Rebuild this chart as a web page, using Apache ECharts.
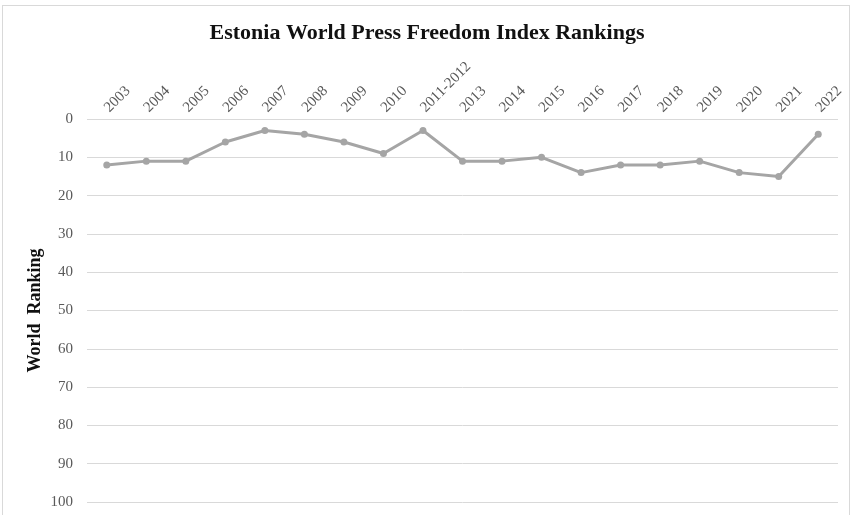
<!DOCTYPE html>
<html><head><meta charset="utf-8">
<script src="https://cdn.jsdelivr.net/npm/echarts@6/dist/echarts.min.js"></script>
<style>
html,body{margin:0;padding:0;background:#fff;}
#frame{position:absolute;left:2px;top:5px;width:848px;height:515px;border:1px solid #d9d9d9;border-bottom:none;box-sizing:border-box;}
#c{position:absolute;left:0;top:0;width:854px;height:515px;}
</style></head>
<body>
<div id="frame"></div>
<div id="c"></div>
<script>
var categories = ['2003','2004','2005','2006','2007','2008','2009','2010','2011-2012','2013','2014','2015','2016','2017','2018','2019','2020','2021','2022'];
var rankings = [12,11,11,6,3,4,6,9,3,11,11,10,14,12,12,11,14,15,4];
var chart = echarts.init(document.getElementById('c'));
var serif = '"Liberation Serif","Times New Roman",serif';
chart.setOption({
  animation:false,
  title:{text:'Estonia World Press Freedom Index Rankings',left:'center',top:17,
    textStyle:{fontFamily:serif,fontWeight:'bold',fontSize:22,color:'#111'}},
  grid:{left:87,right:16,top:119,bottom:13,containLabel:false},
  xAxis:{type:'category',position:'top',data:categories,boundaryGap:true,
    axisLine:{show:false},axisTick:{show:false},
    axisLabel:{rotate:45,interval:0,margin:9,fontFamily:serif,fontSize:15,color:'#595959'}},
  yAxis:{type:'value',inverse:true,min:0,max:100,interval:10,
    name:'World  Ranking',nameLocation:'middle',nameGap:43,nameRotate:90,nameMoveOverlap:false,
    nameTextStyle:{fontFamily:serif,fontWeight:'bold',fontSize:18,color:'#111'},
    axisLine:{show:false},axisTick:{show:false},
    axisLabel:{fontFamily:serif,fontSize:15,color:'#595959',margin:14},
    splitLine:{lineStyle:{color:'#d9d9d9',width:1}}},
  series:[{type:'line',data:rankings,symbol:'circle',symbolSize:7,
    lineStyle:{color:'#a5a5a5',width:3},itemStyle:{color:'#a5a5a5'}}]
});
</script>
</body></html>
